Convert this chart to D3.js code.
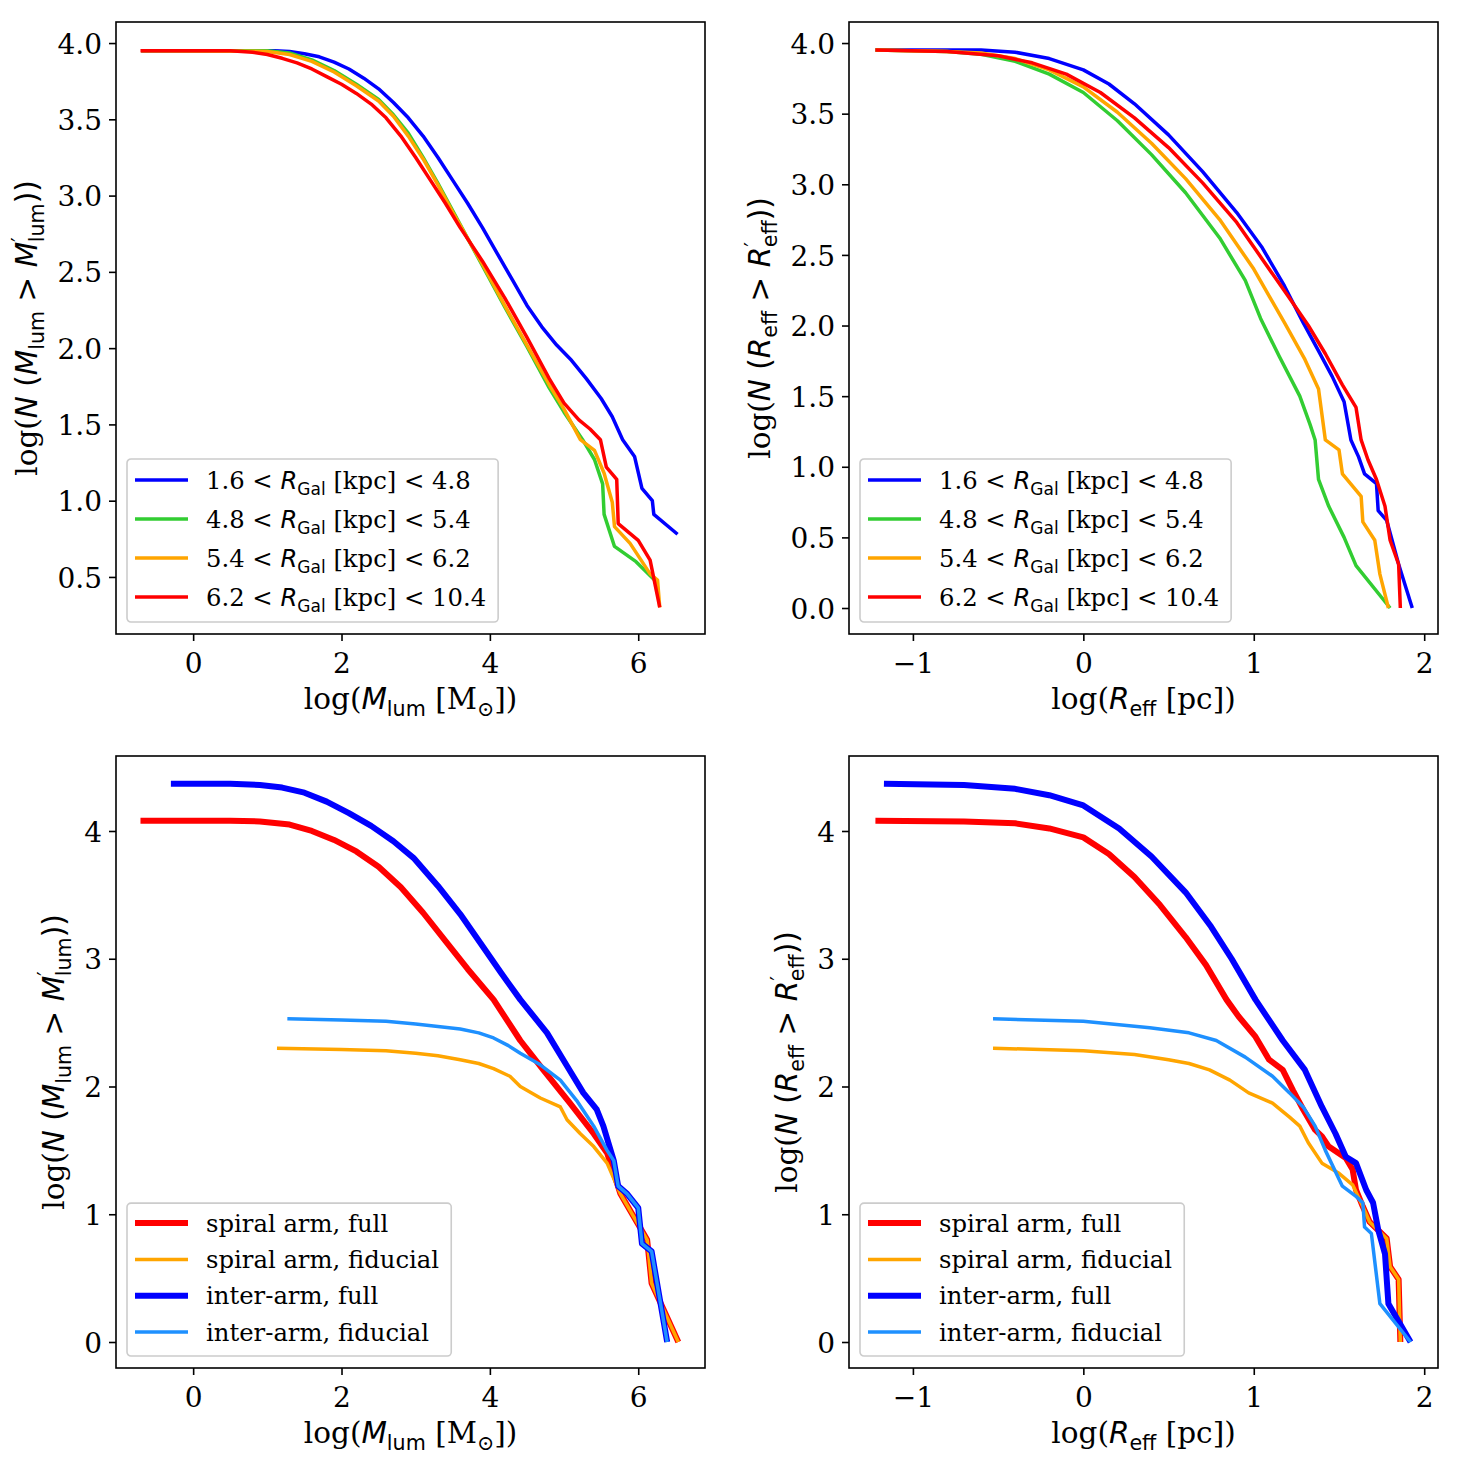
<!DOCTYPE html>
<html>
<head>
<meta charset="utf-8">
<script src="https://cdn.jsdelivr.net/npm/d3@7"></script>
<style>
  body { margin: 0; background: #fff; }
  svg text { white-space: pre; fill: #000; }
</style>
</head>
<body>
<svg id="fig" width="1462" height="1468"></svg>
<script>
// ---- data ----
// top row: cumulative distributions split by galactocentric radius
const radialBins = ["1.6", "4.8", "5.4", "6.2", "10.4"];
const binColors = ["#0000ff", "#32cd32", "#ffa500", "#ff0000"];

const massBin1 = [[-0.7,3.95],[0.8,3.95],[1.1,3.95],[1.3,3.945],[1.5,3.93],[1.7,3.91],[1.9,3.875],[2.1,3.83],[2.3,3.77],[2.5,3.70],[2.7,3.61],[2.9,3.51],[3.1,3.39],[3.3,3.25],[3.5,3.10],[3.7,2.95],[3.9,2.79],[4.1,2.62],[4.3,2.45],[4.5,2.28],[4.7,2.14],[4.9,2.02],[5.1,1.92],[5.3,1.80],[5.5,1.67],[5.65,1.55],[5.79,1.40],[5.95,1.29],[6.05,1.08],[6.19,1.00],[6.21,0.91],[6.53,0.78]];
const massBin2 = [[-0.7,3.95],[1.0,3.95],[1.3,3.935],[1.6,3.89],[1.9,3.82],[2.2,3.73],[2.5,3.63],[2.7,3.53],[2.9,3.41],[3.1,3.25],[3.3,3.08],[3.5,2.90],[3.7,2.72],[3.9,2.54],[4.2,2.27],[4.5,2.01],[4.8,1.74],[5.0,1.58],[5.25,1.40],[5.41,1.27],[5.52,1.11],[5.54,0.91],[5.68,0.70],[5.97,0.60],[6.22,0.48]];
const massBin3 = [[-0.7,3.95],[1.0,3.945],[1.3,3.925],[1.6,3.88],[1.9,3.81],[2.2,3.72],[2.5,3.62],[2.7,3.52],[2.9,3.39],[3.1,3.24],[3.3,3.07],[3.5,2.89],[3.7,2.72],[3.9,2.55],[4.2,2.28],[4.5,2.02],[4.8,1.76],[5.0,1.60],[5.22,1.40],[5.41,1.33],[5.54,1.18],[5.65,0.99],[5.68,0.83],[5.89,0.72],[6.16,0.52],[6.26,0.48],[6.29,0.30]];
const massBin4 = [[-0.71,3.95],[0.5,3.95],[0.8,3.94],[1.0,3.925],[1.2,3.90],[1.4,3.87],[1.6,3.83],[1.8,3.78],[2.0,3.73],[2.2,3.67],[2.4,3.60],[2.6,3.51],[2.8,3.39],[3.0,3.25],[3.2,3.10],[3.4,2.95],[3.6,2.79],[3.9,2.57],[4.2,2.33],[4.5,2.07],[4.8,1.80],[5.0,1.64],[5.2,1.53],[5.35,1.47],[5.49,1.40],[5.57,1.22],[5.71,1.14],[5.73,0.85],[6.0,0.74],[6.16,0.61],[6.29,0.30]];

const sizeBin1 = [[-1.22,3.95],[-0.6,3.95],[-0.4,3.935],[-0.2,3.89],[0.0,3.81],[0.15,3.71],[0.3,3.57],[0.5,3.35],[0.7,3.09],[0.9,2.80],[1.05,2.55],[1.18,2.28],[1.29,2.02],[1.38,1.82],[1.46,1.64],[1.53,1.46],[1.57,1.19],[1.615,1.07],[1.65,0.95],[1.72,0.88],[1.73,0.69],[1.78,0.62],[1.85,0.31],[1.93,0.0]];
const sizeBin2 = [[-1.22,3.95],[-0.8,3.94],[-0.6,3.92],[-0.4,3.87],[-0.2,3.78],[0.0,3.65],[0.2,3.45],[0.4,3.21],[0.6,2.94],[0.8,2.62],[0.95,2.32],[1.04,2.05],[1.15,1.78],[1.27,1.50],[1.33,1.30],[1.36,1.19],[1.38,0.91],[1.44,0.72],[1.53,0.50],[1.60,0.30],[1.80,0.0]];
const sizeBin3 = [[-1.22,3.95],[-0.8,3.94],[-0.6,3.93],[-0.4,3.89],[-0.2,3.81],[0.0,3.69],[0.2,3.51],[0.4,3.29],[0.6,3.04],[0.8,2.75],[1.0,2.40],[1.18,2.02],[1.30,1.76],[1.38,1.55],[1.42,1.19],[1.50,1.12],[1.52,0.95],[1.63,0.79],[1.64,0.61],[1.71,0.48],[1.74,0.24],[1.79,0.0]];
const sizeBin4 = [[-1.22,3.95],[-0.8,3.94],[-0.5,3.91],[-0.3,3.86],[-0.1,3.78],[0.1,3.65],[0.3,3.47],[0.5,3.26],[0.7,3.01],[0.9,2.73],[1.05,2.47],[1.2,2.21],[1.32,2.0],[1.42,1.80],[1.52,1.58],[1.60,1.42],[1.63,1.19],[1.67,1.05],[1.72,0.91],[1.77,0.72],[1.80,0.48],[1.85,0.31],[1.86,0.0]];

// bottom row: spiral arm vs inter-arm, full and fiducial samples
const armLabels = ["spiral arm, full", "spiral arm, fiducial", "inter-arm, full", "inter-arm, fiducial"];
const armColors = ["#ff0000", "#ffa500", "#0000ff", "#1e90ff"];
const armWidths = [6, 3.5, 6, 3.5];

const massArmFull = [[-0.71,4.08],[0.5,4.08],[0.9,4.075],[1.3,4.05],[1.6,4.0],[1.9,3.93],[2.2,3.84],[2.5,3.72],[2.8,3.56],[3.1,3.36],[3.4,3.14],[3.7,2.92],[4.05,2.68],[4.41,2.36],[4.72,2.13],[5.08,1.87],[5.40,1.63],[5.58,1.48],[5.76,1.16],[5.94,0.98],[6.12,0.80],[6.18,0.46],[6.54,0.0]];
const massArmFid = [[1.13,2.30],[2.0,2.29],[2.6,2.28],[3.0,2.26],[3.3,2.24],[3.6,2.21],[3.85,2.18],[4.05,2.14],[4.27,2.08],[4.41,2.0],[4.68,1.91],[4.95,1.84],[5.04,1.74],[5.22,1.63],[5.40,1.53],[5.58,1.40],[5.76,1.16],[5.94,0.98],[6.12,0.80],[6.18,0.46],[6.54,0.0]];
const massInterFull = [[-0.3,4.37],[0.5,4.37],[0.9,4.36],[1.2,4.34],[1.5,4.30],[1.8,4.23],[2.1,4.14],[2.4,4.04],[2.7,3.92],[2.97,3.79],[3.3,3.57],[3.6,3.35],[3.9,3.10],[4.15,2.89],[4.41,2.68],[4.77,2.42],[5.04,2.16],[5.26,1.95],[5.44,1.82],[5.53,1.69],[5.67,1.42],[5.73,1.22],[5.85,1.16],[6.0,1.05],[6.05,0.77],[6.18,0.71],[6.39,0.0]];
const massInterFid = [[1.27,2.53],[2.0,2.52],[2.6,2.51],[3.0,2.49],[3.3,2.47],[3.6,2.45],[3.85,2.42],[4.05,2.38],[4.25,2.32],[4.41,2.26],[4.68,2.17],[4.95,2.05],[5.17,1.89],[5.40,1.69],[5.58,1.50],[5.67,1.42],[5.73,1.22],[5.85,1.16],[6.0,1.05],[6.05,0.77],[6.18,0.71],[6.39,0.0]];

const sizeArmFull = [[-1.22,4.08],[-0.7,4.075],[-0.4,4.06],[-0.2,4.02],[0.0,3.95],[0.15,3.82],[0.3,3.64],[0.45,3.42],[0.6,3.17],[0.72,2.95],[0.84,2.68],[0.91,2.55],[1.01,2.39],[1.09,2.21],[1.17,2.13],[1.23,1.97],[1.29,1.82],[1.36,1.66],[1.40,1.61],[1.44,1.53],[1.54,1.44],[1.58,1.35],[1.60,1.19],[1.64,1.06],[1.68,0.94],[1.78,0.81],[1.80,0.59],[1.85,0.49],[1.86,0.0]];
const sizeArmFid = [[-0.53,2.30],[0.0,2.28],[0.3,2.25],[0.5,2.21],[0.62,2.18],[0.74,2.13],[0.86,2.05],[0.97,1.95],[1.11,1.87],[1.21,1.76],[1.27,1.69],[1.32,1.56],[1.40,1.40],[1.50,1.32],[1.58,1.23],[1.64,1.06],[1.68,0.94],[1.78,0.81],[1.80,0.59],[1.85,0.49],[1.86,0.0]];
const sizeInterFull = [[-1.17,4.37],[-0.7,4.36],[-0.4,4.33],[-0.2,4.28],[0.0,4.20],[0.21,4.02],[0.4,3.80],[0.6,3.52],[0.75,3.25],[0.87,3.0],[1.01,2.68],[1.17,2.36],[1.30,2.13],[1.40,1.84],[1.48,1.63],[1.54,1.45],[1.60,1.40],[1.66,1.19],[1.70,1.09],[1.73,0.88],[1.77,0.69],[1.79,0.30],[1.92,0.0]];
const sizeInterFid = [[-0.53,2.53],[0.0,2.51],[0.39,2.46],[0.62,2.42],[0.78,2.36],[0.95,2.23],[1.11,2.08],[1.21,1.95],[1.29,1.84],[1.36,1.69],[1.42,1.50],[1.52,1.22],[1.60,1.14],[1.64,1.09],[1.65,0.90],[1.69,0.85],[1.74,0.30],[1.92,0.0]];

// ticks and axis ranges
const massTicks = [0, 2, 4, 6];
const sizeTicks = [-1, 0, 1, 2];
const topMassYTicks = [0.5, 1.0, 1.5, 2.0, 2.5, 3.0, 3.5, 4.0];
const topSizeYTicks = [0.0, 0.5, 1.0, 1.5, 2.0, 2.5, 3.0, 3.5, 4.0];
const bottomYTicks = [0, 1, 2, 3, 4];
const massDomain = [-1.04, 6.90];
const sizeDomain = [-1.375, 2.081];
const topMassYDomain = [0.126, 4.138];
const topSizeYDomain = [-0.184, 4.149];
const bottomYDomain = [-0.2035, 4.587];

// ---- styling helpers ----
const SERIF = "'DejaVu Serif', serif";
const SANS = "'DejaVu Sans', sans-serif";
const TICK_FS = 28, LABEL_FS = 29.5, LEGEND_FS = 24.3;

// text pieces: serif, italic sans, upright sans, subscript sans, prime
const S = t => ({ t, font: SERIF });
const I = t => ({ t, font: SANS, it: true });
const U = t => ({ t, font: SANS });
const B = (t, dx) => ({ t, font: SANS, sub: true, dx });
const BS = t => ({ t, font: SERIF, sub: true });
const P = t => ({ t, font: SANS, sup: true });

function rich(text, parts, size) {
  let shift = 0;
  parts.forEach(p => {
    const target = p.sub ? size * 0.24 : p.sup ? -size * 0.36 : 0;
    const ts = text.append("tspan")
      .attr("font-family", p.font)
      .attr("font-style", p.it ? "italic" : "normal")
      .attr("font-size", (p.sub || p.sup) ? size * 0.7 : size)
      .text(p.t);
    if (target !== shift) ts.attr("dy", target - shift);
    if (p.dx) ts.attr("dx", p.dx);
    shift = target;
  });
}

const massXLabel = [S("log("), I("M"), B("lum"), S(" [M"), BS("\u2299"), S("])")];
const sizeXLabel = [S("log("), I("R"), B("eff"), S(" [pc])")];
const massYLabel = [S("log("), I("N"), U(" ("), I("M"), B("lum"), U(" > "), I("M"), P("\u2032"), B("lum", -5), U("))")];
const sizeYLabel = [S("log("), I("N"), U(" ("), I("R"), B("eff"), U(" > "), I("R"), P("\u2032"), B("eff", -5), U("))")];

const binLegend = d3.range(4).map(i =>
  [S(radialBins[i] + " < "), I("R"), B("Gal"), S(" [kpc] < " + radialBins[i + 1])]);
const armLegend = armLabels.map(l => [S(l)]);

const panels = [
  { left: 116, top: 22, xDomain: massDomain, yDomain: topMassYDomain, xTicks: massTicks,
    yTicks: topMassYTicks, yFmt: d3.format(".1f"), xLabel: massXLabel, yLabel: massYLabel,
    series: [massBin1, massBin2, massBin3, massBin4], colors: binColors, widths: [3.5, 3.5, 3.5, 3.5],
    legend: binLegend, rowH: 39, legTop: 21 },
  { left: 849, top: 22, xDomain: sizeDomain, yDomain: topSizeYDomain, xTicks: sizeTicks,
    yTicks: topSizeYTicks, yFmt: d3.format(".1f"), xLabel: sizeXLabel, yLabel: sizeYLabel,
    series: [sizeBin1, sizeBin2, sizeBin3, sizeBin4], colors: binColors, widths: [3.5, 3.5, 3.5, 3.5],
    legend: binLegend, rowH: 39, legTop: 21 },
  { left: 116, top: 756, xDomain: massDomain, yDomain: bottomYDomain, xTicks: massTicks,
    yTicks: bottomYTicks, yFmt: d3.format("d"), xLabel: massXLabel, yLabel: massYLabel,
    series: [massArmFull, massArmFid, massInterFull, massInterFid], colors: armColors, widths: armWidths,
    legend: armLegend, rowH: 36.3, legTop: 20 },
  { left: 849, top: 756, xDomain: sizeDomain, yDomain: bottomYDomain, xTicks: sizeTicks,
    yTicks: bottomYTicks, yFmt: d3.format("d"), xLabel: sizeXLabel, yLabel: sizeYLabel,
    series: [sizeArmFull, sizeArmFid, sizeInterFull, sizeInterFid], colors: armColors, widths: armWidths,
    legend: armLegend, rowH: 36.3, legTop: 20 }
];

const W = 589, H = 612;
const svg = d3.select("#fig");
const fmtMinus = s => s.replace("-", "\u2212");

panels.forEach(p => {
  const g = svg.append("g").attr("transform", `translate(${p.left},${p.top})`);
  const x = d3.scaleLinear().domain(p.xDomain).range([0, W]);
  const y = d3.scaleLinear().domain(p.yDomain).range([H, 0]);

  // curves
  const line = d3.line().x(d => x(d[0])).y(d => y(d[1]));
  p.series.forEach((s, i) => {
    g.append("path").datum(s)
      .attr("d", line)
      .attr("fill", "none")
      .attr("stroke", p.colors[i])
      .attr("stroke-width", p.widths[i])
      .attr("stroke-linejoin", "round")
      .attr("stroke-linecap", "butt");
  });

  // axes
  const xAxis = g.append("g").attr("transform", `translate(0,${H})`)
    .call(d3.axisBottom(x).tickValues(p.xTicks).tickSize(7).tickPadding(7)
      .tickFormat(d => fmtMinus(d3.format("d")(d))));
  const yAxis = g.append("g")
    .call(d3.axisLeft(y).tickValues(p.yTicks).tickSize(7).tickPadding(7).tickFormat(p.yFmt));
  [xAxis, yAxis].forEach(a => {
    a.select(".domain").remove();
    a.selectAll("line").attr("stroke", "#000").attr("stroke-width", 1.6);
    a.selectAll("text").attr("font-family", SERIF).attr("font-size", TICK_FS).attr("fill", "#000");
  });
  xAxis.selectAll("text").attr("dy", null).attr("y", 39).attr("dominant-baseline", "auto");
  yAxis.selectAll("text").attr("dy", "0.36em");

  // frame
  g.append("rect").attr("width", W).attr("height", H)
    .attr("fill", "none").attr("stroke", "#000").attr("stroke-width", 1.6);

  // x label
  const xl = g.append("text").attr("x", W / 2).attr("y", H + 75).attr("text-anchor", "middle");
  rich(xl, p.xLabel, LABEL_FS);

  // y label, placed just left of the tick labels
  const tickLeft = d3.min(yAxis.selectAll("text").nodes(), n => n.getBBox().x);
  const yl = g.append("text").attr("text-anchor", "middle");
  rich(yl, p.yLabel, LABEL_FS);
  const bb = yl.node().getBBox();
  const tx = tickLeft - 8 - (bb.y + bb.height);
  yl.attr("transform", `translate(${tx},${H / 2}) rotate(-90)`);

  // legend
  const leg = g.append("g");
  const box = leg.append("rect");
  const rows = p.legend.map((parts, i) => {
    const cy = p.legTop + i * p.rowH;
    leg.append("line").attr("x1", 8).attr("x2", 61).attr("y1", cy).attr("y2", cy)
      .attr("stroke", p.colors[i]).attr("stroke-width", p.widths[i]);
    const t = leg.append("text").attr("x", 79).attr("y", cy + LEGEND_FS * 0.36);
    rich(t, parts, LEGEND_FS);
    return t;
  });
  const legW = d3.max(rows, t => { const b = t.node().getBBox(); return b.x + b.width; }) + 12;
  const legH = p.legTop + (p.legend.length - 1) * p.rowH + (p.legTop + 4);
  box.attr("x", 0).attr("y", 0).attr("width", legW).attr("height", legH)
    .attr("rx", 4).attr("fill", "#fff").attr("fill-opacity", 0.8)
    .attr("stroke", "#cccccc").attr("stroke-width", 1.6);
  leg.attr("transform", `translate(11,${H - 12 - legH})`);
});
</script>
</body>
</html>
